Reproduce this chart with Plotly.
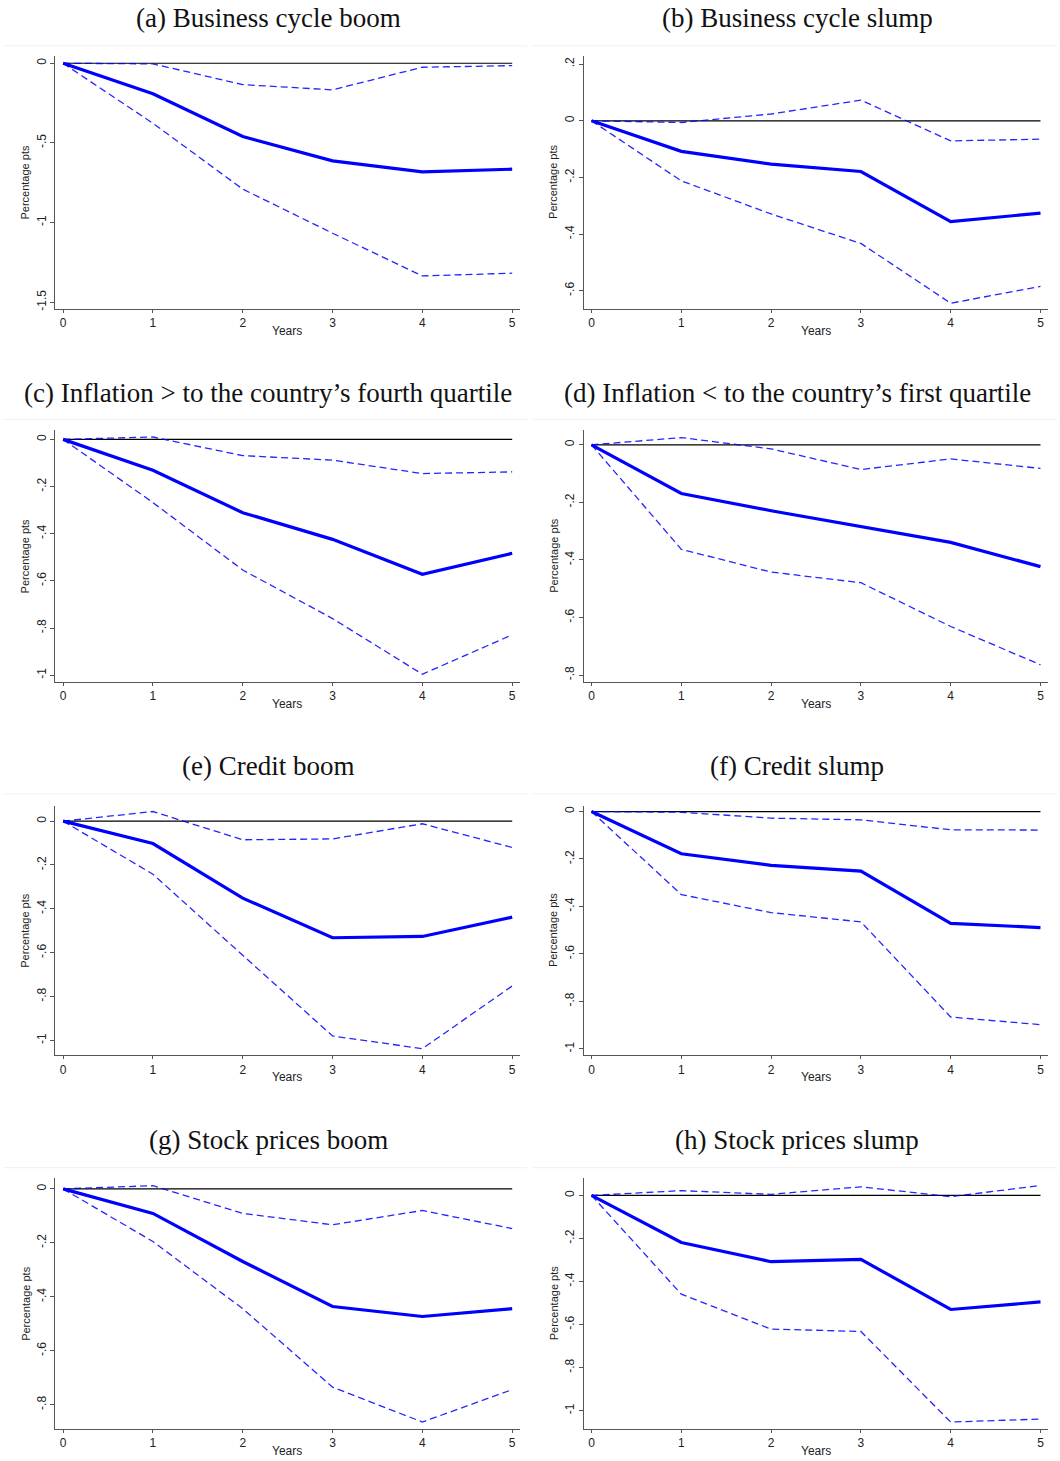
import plotly.graph_objects as go

W, H = 1060, 1461

years = [0, 1, 2, 3, 4, 5]
zero_line = [0, 0, 0, 0, 0, 0]

titles = [
    "(a) Business cycle boom",
    "(b) Business cycle slump",
    "(c) Inflation > to the country\u2019s fourth quartile",
    "(d) Inflation < to the country\u2019s first quartile",
    "(e) Credit boom",
    "(f) Credit slump",
    "(g) Stock prices boom",
    "(h) Stock prices slump",
]
x_title = "Years"
y_title = "Percentage pts"

# point estimates
est_a = [0, -0.192, -0.460, -0.613, -0.682, -0.665]
est_b = [0, -0.108, -0.153, -0.179, -0.356, -0.326]
est_c = [0, -0.131, -0.311, -0.424, -0.572, -0.483]
est_d = [0, -0.169, -0.229, -0.284, -0.339, -0.423]
est_e = [0, -0.102, -0.351, -0.532, -0.526, -0.438]
est_f = [0, -0.178, -0.227, -0.251, -0.471, -0.489]
est_g = [0, -0.091, -0.269, -0.436, -0.473, -0.444]
est_h = [0, -0.219, -0.308, -0.297, -0.530, -0.495]

# upper confidence bands
up_a = [0, -0.004, -0.134, -0.167, -0.025, -0.015]
up_b = [0, -0.006, 0.024, 0.073, -0.071, -0.065]
up_c = [0, 0.010, -0.069, -0.088, -0.145, -0.138]
up_d = [0, 0.025, -0.014, -0.086, -0.049, -0.082]
up_e = [0, 0.044, -0.085, -0.081, -0.012, -0.120]
up_f = [0, -0.003, -0.028, -0.035, -0.077, -0.078]
up_g = [0, 0.012, -0.091, -0.133, -0.080, -0.147]
up_h = [0, 0.022, 0.005, 0.040, -0.006, 0.046]

# lower confidence bands
lo_a = [0, -0.377, -0.790, -1.067, -1.335, -1.318]
lo_b = [0, -0.212, -0.329, -0.433, -0.644, -0.585]
lo_c = [0, -0.268, -0.554, -0.760, -0.996, -0.829]
lo_d = [0, -0.363, -0.442, -0.479, -0.631, -0.764]
lo_e = [0, -0.242, -0.612, -0.980, -1.038, -0.752]
lo_f = [0, -0.350, -0.426, -0.465, -0.866, -0.898]
lo_g = [0, -0.195, -0.444, -0.735, -0.864, -0.744]
lo_h = [0, -0.459, -0.621, -0.632, -1.053, -1.039]

estimates = [est_a, est_b, est_c, est_d, est_e, est_f, est_g, est_h]
uppers = [up_a, up_b, up_c, up_d, up_e, up_f, up_g, up_h]
lowers = [lo_a, lo_b, lo_c, lo_d, lo_e, lo_f, lo_g, lo_h]

# y-axis ticks (Stata style)
ytick_vals = [
    [0, -0.5, -1, -1.5],
    [0.2, 0, -0.2, -0.4, -0.6],
    [0, -0.2, -0.4, -0.6, -0.8, -1],
    [0, -0.2, -0.4, -0.6, -0.8],
    [0, -0.2, -0.4, -0.6, -0.8, -1],
    [0, -0.2, -0.4, -0.6, -0.8, -1],
    [0, -0.2, -0.4, -0.6, -0.8],
    [0, -0.2, -0.4, -0.6, -0.8, -1],
]
ytick_text = [
    ["0", "-.5", "-1", "-1.5"],
    [".2", "0", "-.2", "-.4", "-.6"],
    ["0", "-.2", "-.4", "-.6", "-.8", "-1"],
    ["0", "-.2", "-.4", "-.6", "-.8"],
    ["0", "-.2", "-.4", "-.6", "-.8", "-1"],
    ["0", "-.2", "-.4", "-.6", "-.8", "-1"],
    ["0", "-.2", "-.4", "-.6", "-.8"],
    ["0", "-.2", "-.4", "-.6", "-.8", "-1"],
]
xtick_vals = [0, 1, 2, 3, 4, 5]
xtick_text = ["0", "1", "2", "3", "4", "5"]

y_ranges = [
    [-1.54, 0.046],
    [-0.663, 0.229],
    [-1.028, 0.038],
    [-0.823, 0.050],
    [-1.068, 0.071],
    [-1.027, 0.025],
    [-0.889, 0.039],
    [-1.084, 0.079],
]
x_range = [-0.087, 5.087]

# layout geometry in pixels
col_x = [(55.3, 520.0), (583.7, 1048.3)]
row_y = [(56.0, 309.0), (431.0, 682.7), (806.7, 1056.7), (1180.0, 1430.7)]
title_y = [18.3, 393.3, 766.7, 1141.7]
title_x = [268.0, 797.0]
sep_y = [46.0, 420.0, 795.0, 1169.3]

BLUE = "#0000ff"
AXC = "#555555"
SANS = "Liberation Sans, Arial, sans-serif"
TICKFONT = dict(family=SANS, size=12, color="#222222")

fig = go.Figure()
layout = dict(
    width=W, height=H, margin=dict(l=0, r=0, t=0, b=0),
    paper_bgcolor="white", plot_bgcolor="white", showlegend=False,
    annotations=[], shapes=[],
)

for i in range(8):
    r, c = divmod(i, 2)
    n = i + 1
    xa = "x" if n == 1 else f"x{n}"
    ya = "y" if n == 1 else f"y{n}"
    fig.add_trace(go.Scatter(x=years, y=zero_line, mode="lines", xaxis=xa, yaxis=ya,
                             line=dict(color="black", width=1.2), hoverinfo="skip"))
    fig.add_trace(go.Scatter(x=years, y=uppers[i], mode="lines", xaxis=xa, yaxis=ya,
                             line=dict(color=BLUE, width=1.3, dash="7px,4px"), opacity=0.85))
    fig.add_trace(go.Scatter(x=years, y=lowers[i], mode="lines", xaxis=xa, yaxis=ya,
                             line=dict(color=BLUE, width=1.3, dash="7px,4px"), opacity=0.85))
    fig.add_trace(go.Scatter(x=years, y=estimates[i], mode="lines", xaxis=xa, yaxis=ya,
                             line=dict(color=BLUE, width=3.2)))

    x0, x1 = col_x[c]
    yt, yb = row_y[r]
    xkey = "xaxis" if n == 1 else f"xaxis{n}"
    ykey = "yaxis" if n == 1 else f"yaxis{n}"
    layout[xkey] = dict(
        domain=[x0 / W, x1 / W], range=x_range, anchor=ya,
        tickmode="array", tickvals=xtick_vals, ticktext=xtick_text,
        ticks="outside", ticklen=3, tickcolor=AXC, tickwidth=1,
        showline=True, linecolor=AXC, linewidth=1, showgrid=False, zeroline=False,
        tickfont=TICKFONT,
    )
    layout[ykey] = dict(
        domain=[1 - yb / H, 1 - yt / H], range=y_ranges[i], anchor=xa,
        tickmode="array", tickvals=ytick_vals[i], ticktext=ytick_text[i], tickangle=-90,
        ticks="outside", ticklen=4, tickcolor=AXC, tickwidth=1,
        showline=True, linecolor=AXC, linewidth=1, showgrid=False, zeroline=False,
        tickfont=TICKFONT,
    )
    layout["annotations"].append(dict(
        text=titles[i], xref="paper", yref="paper",
        x=title_x[c] / W, y=1 - title_y[r] / H, xanchor="center", yanchor="middle",
        showarrow=False, font=dict(family="Liberation Serif, Times New Roman, serif", size=27, color="#111111"),
    ))
    # axis titles
    layout["annotations"].append(dict(
        text=x_title, xref="paper", yref="paper",
        x=(x0 + 232) / W, y=1 - (yb + 22) / H, xanchor="center", yanchor="middle",
        showarrow=False, font=dict(family=SANS, size=12, color="#222222"),
    ))
    layout["annotations"].append(dict(
        text=y_title, xref="paper", yref="paper", textangle=-90,
        x=(x0 - 30) / W, y=1 - (yt + yb) / 2 / H, xanchor="center", yanchor="middle",
        showarrow=False, font=dict(family=SANS, size=11, color="#222222"),
    ))

for r in range(4):
    for (sx0, sx1) in [(3, 527), (533, 1057)]:
        layout["shapes"].append(dict(
            type="line", xref="paper", yref="paper",
            x0=sx0 / W, x1=sx1 / W, y0=1 - sep_y[r] / H, y1=1 - sep_y[r] / H,
            line=dict(color="#f0f0f0", width=1), layer="below",
        ))

fig.update_layout(**layout)
fig.write_html("out.html")
